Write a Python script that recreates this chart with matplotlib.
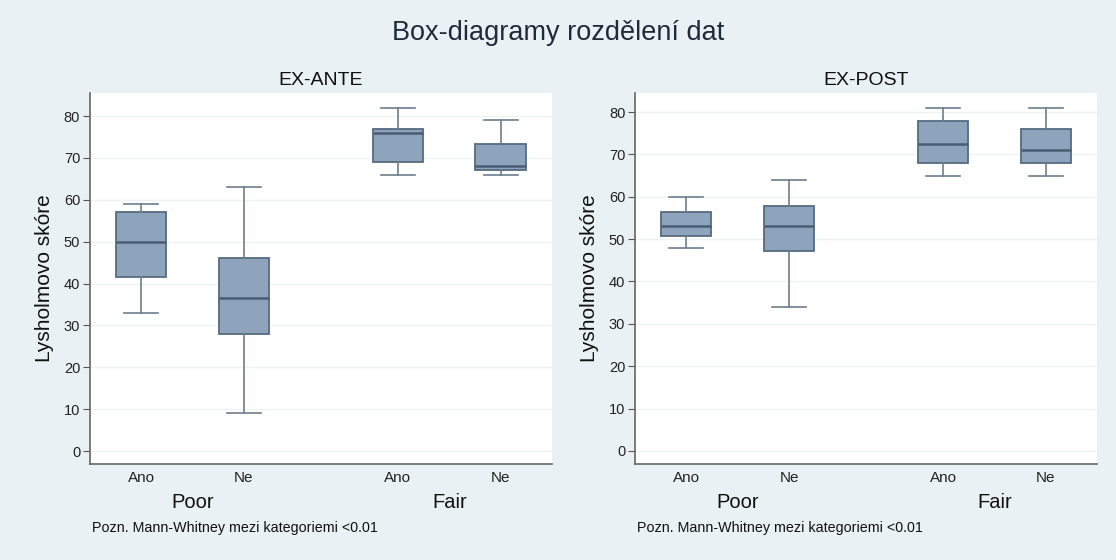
import matplotlib.pyplot as plt
from matplotlib import transforms

plt.rcParams['font.family'] = ['Liberation Sans', 'DejaVu Sans']

# Data (whisker low, Q1, median, Q3, whisker high)
categories = ['Ano', 'Ne', 'Ano', 'Ne']
groups = ['Poor', 'Fair']
panels = ['EX-ANTE', 'EX-POST']

ante_low = [33, 9, 66, 66]
ante_q1 = [41.5, 28, 69, 67.2]
ante_med = [50, 36.5, 76, 68]
ante_q3 = [57, 46, 77, 73.3]
ante_high = [59, 63, 82, 79]

post_low = [48, 34, 65, 65]
post_q1 = [50.7, 47.2, 68, 68]
post_med = [53, 53, 72.5, 71]
post_q3 = [56.3, 57.8, 78, 76]
post_high = [60, 64, 81, 81]

yticks = [0, 10, 20, 30, 40, 50, 60, 70, 80]
note = 'Pozn. Mann-Whitney mezi kategoriemi <0.01'

positions = [0, 1, 2.5, 3.5]
group_pos = [0.5, 3.0]

bg = '#e9f1f4'
box_fill = '#8ea3bc'
box_edge = '#566a80'


def make_stats(low, q1, med, q3, high):
    stats = []
    for a, b, c, d, e in zip(low, q1, med, q3, high):
        stats.append({'whislo': a, 'q1': b, 'med': c, 'q3': d, 'whishi': e, 'fliers': []})
    return stats


fig = plt.figure(figsize=(11.16, 5.6), dpi=100, facecolor=bg)
ax1 = fig.add_axes([0.0806, 0.1714, 0.414, 0.6625])
ax2 = fig.add_axes([0.569, 0.1714, 0.414, 0.6625])

data = [make_stats(ante_low, ante_q1, ante_med, ante_q3, ante_high),
        make_stats(post_low, post_q1, post_med, post_q3, post_high)]
ylims = [(-3.1, 85.5), (-3.1, 84.5)]

for ax, stats, title, yl in zip([ax1, ax2], data, panels, ylims):
    ax.set_facecolor('white')
    ax.bxp(stats, positions=positions, widths=0.49, capwidths=0.33,
           patch_artist=True, showfliers=False,
           boxprops=dict(facecolor=box_fill, edgecolor=box_edge, linewidth=1.3),
           medianprops=dict(color='#4a5d73', linewidth=1.8),
           whiskerprops=dict(color='#6d7e8f', linewidth=1.2),
           capprops=dict(color='#6d7e8f', linewidth=1.2))
    ax.set_xlim(-0.5, 4.0)
    ax.set_ylim(*yl)
    ax.set_yticks(yticks)
    ax.set_xticks(positions)
    ax.set_xticklabels(categories, fontsize=11, color='#222222')
    ax.tick_params(axis='x', length=0, pad=5)
    ax.tick_params(axis='y', length=5, color='#555555', labelsize=10.5,
                   labelcolor='#222222', pad=2)
    ax.grid(axis='y', color='#edf2f4', linewidth=1)
    ax.set_axisbelow(True)
    for s in ['top', 'right']:
        ax.spines[s].set_visible(False)
    for s in ['left', 'bottom']:
        ax.spines[s].set_color('#666666')
        ax.spines[s].set_linewidth(1.2)
    ax.set_ylabel('Lysholmovo skóre', fontsize=15, color='#111111', labelpad=7)
    ax.set_title(title, fontsize=14, color='#111111', pad=6)
    trans = transforms.blended_transform_factory(ax.transData, ax.transAxes)
    for gx, g in zip(group_pos, groups):
        ax.text(gx, -0.105, g, transform=trans, ha='center', va='center',
                fontsize=14.5, color='#111111')
    ax.text(0.004, -0.172, note, transform=ax.transAxes, ha='left', va='center',
            fontsize=10.3, color='#111111')

fig.text(0.5, 0.941, 'Box-diagramy rozdělení dat', ha='center', va='center',
         fontsize=19.5, color='#1f2a3a')

fig.savefig('out.png', dpi=100, facecolor=bg)
